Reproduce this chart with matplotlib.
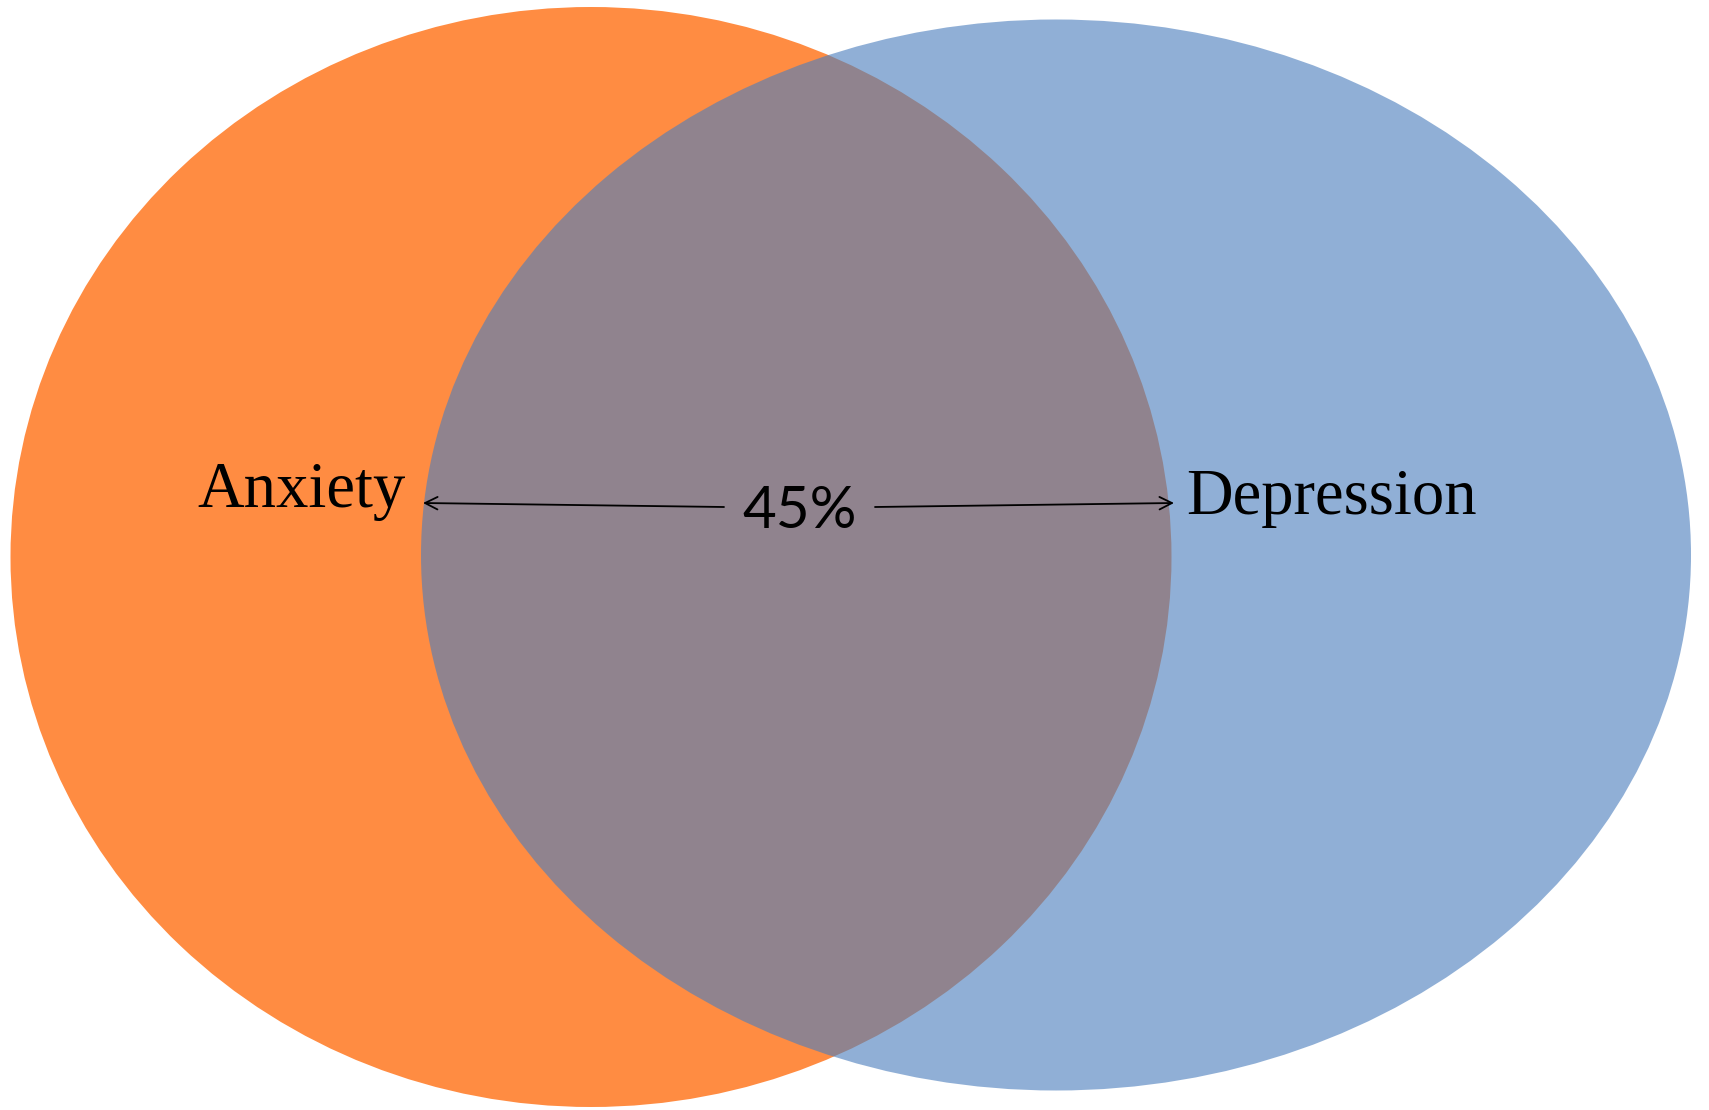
import matplotlib
matplotlib.use("Agg")
import matplotlib.pyplot as plt
from matplotlib.patches import Ellipse

# Sets and their overlap
set_names = ["Anxiety", "Depression"]
overlap_label = "45%"

# Ellipse geometry in pixel space (centre x, centre y, width, height)
centers = [(591, 557), (1056, 555)]
widths = [1161, 1270]
heights = [1100, 1071]
colors = ["#FF8C42", "#4C7FBD"]
alphas = [1.0, 0.62]

W, H = 1709, 1110
fig = plt.figure(figsize=(W / 100, H / 100), dpi=100)
ax = fig.add_axes([0, 0, 1, 1])
ax.set_xlim(0, W)
ax.set_ylim(H, 0)
ax.axis("off")

for c, w, h, col, a in zip(centers, widths, heights, colors, alphas):
    ax.add_patch(Ellipse(c, w, h, facecolor=col, edgecolor="none", alpha=a))

serif = ["Liberation Serif", "DejaVu Serif"]
ax.text(302, 507, set_names[0], fontsize=46.5, family=serif,
        ha="center", va="baseline", color="black")
ax.text(1331, 514, set_names[1], fontsize=46.5, family=serif,
        ha="center", va="baseline", color="black")
ax.text(800, 528, overlap_label, fontsize=42, family=["Lato", "DejaVu Sans"],
        ha="center", va="baseline", color="black")

arrow = dict(arrowstyle="->,head_length=0.9,head_width=0.45", lw=1.3,
             color="black", shrinkA=0, shrinkB=0)
ax.annotate("", xy=(423, 503), xytext=(724, 507), arrowprops=arrow)
ax.annotate("", xy=(1174, 503), xytext=(875, 507), arrowprops=arrow)

fig.savefig("out.png", dpi=100)
